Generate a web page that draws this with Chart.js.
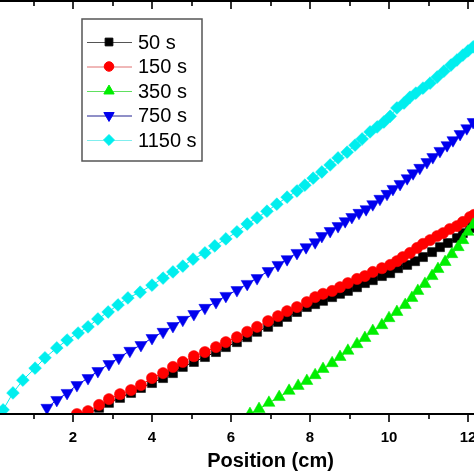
<!DOCTYPE html>
<html>
<head>
<meta charset="utf-8">
<script src="https://cdn.jsdelivr.net/npm/chart.js@4.4.1/dist/chart.umd.min.js"></script>
<style>
  html, body { margin: 0; padding: 0; width: 474px; height: 474px; overflow: hidden; background: #fff; }
  #marco { position: absolute; left: -6px; top: 0; width: 560px; height: 474px; }
</style>
</head>
<body>
<div id="marco"><canvas id="graficoPerfil" width="560" height="474"></canvas></div>
<script>
// Etiquetas de las series (tiempos) y del eje X
const etiquetas = ["50 s", "150 s", "350 s", "750 s", "1150 s"];
const ticksX = [2, 4, 6, 8, 10, 12];

const pos50 = [2.38, 2.66, 2.91, 3.19, 3.47, 3.72, 4.00, 4.28, 4.53, 4.78, 5.06, 5.34, 5.62, 5.87, 6.15, 6.41, 6.66, 6.94, 7.19, 7.42, 7.67, 7.92, 8.13, 8.33, 8.56, 8.76, 8.96, 9.19, 9.39, 9.59, 9.82, 10.03, 10.23, 10.46, 10.66, 10.86, 11.09, 11.29, 11.49, 11.72, 11.87, 12.05, 12.13];
const val50 = [0, 1.5, 2.7, 3.9, 5.1, 6.3, 7.5, 8.7, 9.9, 11.4, 12.6, 13.8, 15.0, 16.2, 17.4, 18.6, 19.9, 21.1, 22.3, 23.5, 24.7, 25.9, 26.6, 27.4, 28.3, 29.1, 29.8, 30.7, 31.7, 32.4, 33.4, 34.1, 35.3, 36.1, 37.0, 38.0, 39.2, 40.4, 41.4, 42.6, 43.8, 45.0, 45.8];

const pos150 = [2.10, 2.38, 2.66, 2.91, 3.19, 3.47, 3.72, 4.00, 4.28, 4.53, 4.78, 5.06, 5.34, 5.62, 5.87, 6.15, 6.41, 6.66, 6.94, 7.19, 7.42, 7.67, 7.92, 8.13, 8.33, 8.56, 8.76, 8.96, 9.19, 9.39, 9.59, 9.82, 10.03, 10.20, 10.35, 10.53, 10.71, 10.86, 11.04, 11.22, 11.37, 11.54, 11.72, 11.87, 12.05, 12.15];
const val150 = [0, 0.7, 2.2, 3.6, 4.8, 5.8, 7.0, 8.7, 9.9, 11.4, 12.6, 14.0, 15.0, 16.2, 17.4, 18.6, 19.9, 21.1, 22.5, 23.7, 24.9, 25.9, 27.1, 28.3, 29.1, 29.8, 30.7, 31.7, 32.7, 33.4, 34.4, 35.3, 36.1, 37.0, 38.0, 39.0, 40.2, 41.2, 42.1, 43.1, 43.8, 44.8, 45.5, 46.5, 47.7, 48.2];

const pos350 = [6.48, 6.71, 6.96, 7.22, 7.47, 7.70, 7.92, 8.13, 8.33, 8.56, 8.76, 8.96, 9.19, 9.39, 9.59, 9.82, 10.00, 10.20, 10.41, 10.58, 10.73, 10.91, 11.09, 11.24, 11.42, 11.59, 11.75, 11.87, 12.00, 12.13];
const val350 = [0, 1.2, 2.7, 4.1, 5.6, 6.8, 8.0, 9.4, 10.9, 12.3, 13.8, 15.3, 16.9, 18.4, 20.1, 21.5, 23.2, 24.7, 26.4, 28.1, 29.8, 31.5, 33.4, 35.1, 36.8, 38.7, 40.4, 42.1, 44.1, 45.8];

const pos750 = [1.34, 1.59, 1.85, 2.10, 2.38, 2.63, 2.91, 3.16, 3.44, 3.72, 4.00, 4.28, 4.53, 4.78, 5.06, 5.34, 5.62, 5.87, 6.15, 6.41, 6.66, 6.94, 7.19, 7.42, 7.67, 7.90, 8.13, 8.30, 8.51, 8.71, 8.89, 9.06, 9.24, 9.42, 9.59, 9.77, 9.95, 10.10, 10.28, 10.46, 10.61, 10.78, 10.96, 11.11, 11.29, 11.47, 11.62, 11.80, 11.97, 12.13];
const val750 = [1.5, 3.4, 5.1, 7.0, 8.7, 10.4, 12.1, 13.6, 15.3, 16.7, 18.4, 19.9, 21.3, 22.8, 24.2, 25.7, 27.1, 28.6, 30.0, 31.5, 32.9, 34.6, 36.1, 37.5, 39.0, 40.4, 41.6, 43.1, 44.3, 45.5, 46.7, 47.7, 48.7, 49.6, 50.8, 52.1, 53.3, 54.5, 55.7, 57.1, 58.3, 59.6, 61.0, 62.2, 63.7, 65.1, 66.3, 67.8, 69.2, 70.7];

const pos1150 = [0.23, 0.48, 0.73, 1.04, 1.29, 1.59, 1.85, 2.13, 2.38, 2.63, 2.89, 3.14, 3.39, 3.70, 4.00, 4.28, 4.53, 4.78, 5.04, 5.34, 5.59, 5.87, 6.15, 6.41, 6.66, 6.91, 7.16, 7.42, 7.67, 7.87, 8.08, 8.30, 8.51, 8.71, 8.94, 9.14, 9.32, 9.52, 9.70, 9.87, 10.03, 10.20, 10.38, 10.53, 10.68, 10.86, 11.04, 11.22, 11.39, 11.57, 11.72, 11.87, 12.00, 12.13];
const val1150 = [1.0, 5.1, 8.2, 11.1, 13.6, 16.0, 17.9, 19.6, 21.1, 23.0, 24.7, 26.4, 28.1, 29.5, 31.2, 32.9, 34.4, 35.8, 37.5, 39.0, 40.7, 42.4, 44.1, 46.0, 47.5, 49.1, 50.8, 52.5, 54.0, 55.4, 57.1, 58.6, 60.3, 62.0, 63.4, 65.1, 66.6, 68.3, 69.5, 70.7, 72.1, 74.1, 75.3, 76.7, 77.7, 78.9, 80.1, 81.6, 83.0, 84.5, 85.7, 86.9, 87.9, 88.9];

const posiciones = [pos50, pos150, pos350, pos750, pos1150];
const valores = [val50, val150, val350, val750, val1150];

// Estilo de cada serie
const colores = ["#000000", "#ff0000", "#00ee00", "#0000ee", "#00eeee"];
const coloresLinea = ["#555555", "#e07070", "#60e060", "#202090", "#80eeee"];
const simbolos = ["rect", "circle", "triangle", "triangle", "rectRot"];
const giros = [0, 0, 0, 180, 0];
const radios = [6.4, 5.6, 7, 7, 6.4];

Chart.defaults.font.family = '"Liberation Sans", Arial, sans-serif';
Chart.defaults.color = "#000";

const datasets = etiquetas.map((nombre, i) => ({
    label: nombre,
    data: posiciones[i].map((p, j) => ({ x: p, y: valores[i][j] })),
    borderColor: colores[i],
    backgroundColor: colores[i],
    borderWidth: 1,
    pointStyle: simbolos[i],
    rotation: giros[i],
    pointRadius: radios[i],
    pointBorderWidth: 0.5,
    order: etiquetas.length - i
}));

// Marco superior/inferior con marcas mayores y menores
const marcoPlugin = {
    id: "marco",
    afterDraw(chart) {
        const { ctx, chartArea: a, scales } = chart;
        const x = scales.x;
        ctx.save();
        ctx.strokeStyle = "#000";
        ctx.lineWidth = 2;
        ctx.beginPath();
        ctx.moveTo(a.left, a.top); ctx.lineTo(a.right, a.top);
        ctx.moveTo(a.left, a.bottom); ctx.lineTo(a.right, a.bottom);
        ctx.stroke();
        ctx.lineWidth = 1.6;
        ctx.beginPath();
        for (let v = 1; v < 14; v++) {
            const px = Math.round(x.getPixelForValue(v));
            const largo = v % 2 === 0 ? 8 : 5;
            ctx.moveTo(px, a.top); ctx.lineTo(px, a.top + largo);
            ctx.moveTo(px, a.bottom); ctx.lineTo(px, a.bottom + largo);
        }
        ctx.stroke();

        // Leyenda con línea y símbolo
        const L = a.left + 88, T = a.top + 18;
        ctx.fillStyle = "#fff";
        ctx.fillRect(L, T, 120, 142);
        ctx.strokeStyle = "#555";
        ctx.lineWidth = 1.5;
        ctx.strokeRect(L, T, 120, 142);
        chart.data.datasets.forEach((ds, i) => {
            const y = T + 23 + i * 24.5;
            ctx.strokeStyle = coloresLinea[i];
            ctx.lineWidth = 1;
            ctx.beginPath();
            ctx.moveTo(L + 5, y + 0.5); ctx.lineTo(L + 50, y + 0.5);
            ctx.stroke();
            ctx.fillStyle = colores[i];
            ctx.strokeStyle = colores[i];
            Chart.helpers.drawPoint(ctx, {
                pointStyle: simbolos[i], rotation: giros[i], radius: radios[i] * 0.85, borderWidth: 0.5
            }, L + 27, y);
            ctx.fillStyle = "#000";
            ctx.font = '20px "Liberation Sans", Arial, sans-serif';
            ctx.textBaseline = "middle";
            ctx.textAlign = "left";
            ctx.fillText(ds.label, L + 56, y + 1);
        });
        ctx.restore();
    }
};

const ctx = document.getElementById("graficoPerfil").getContext("2d");
new Chart(ctx, {
    type: "line",
    data: { datasets: datasets },
    options: {
        responsive: false,
        animation: false,
        events: [],
        layout: { autoPadding: false, padding: { left: 0, right: 7, top: 1, bottom: 0 } },
        plugins: { legend: { display: false }, tooltip: { enabled: false } },
        scales: {
            x: {
                type: "linear",
                min: 0,
                max: 14,
                afterBuildTicks: (escala) => { escala.ticks = ticksX.map(v => ({ value: v })); },
                afterFit: (escala) => { escala.height = 60; },
                grid: { display: false, drawTicks: false },
                border: { display: false },
                ticks: { padding: 15, font: { size: 15, weight: "bold" }, color: "#000", maxRotation: 0 },
                title: {
                    display: true,
                    text: "Position (cm)",
                    font: { size: 20, weight: "bold" },
                    color: "#000",
                    padding: { top: 5, bottom: 0.5 }
                }
            },
            y: { type: "linear", min: 0, max: 100, display: false }
        }
    },
    plugins: [marcoPlugin]
});
</script>
</body>
</html>
